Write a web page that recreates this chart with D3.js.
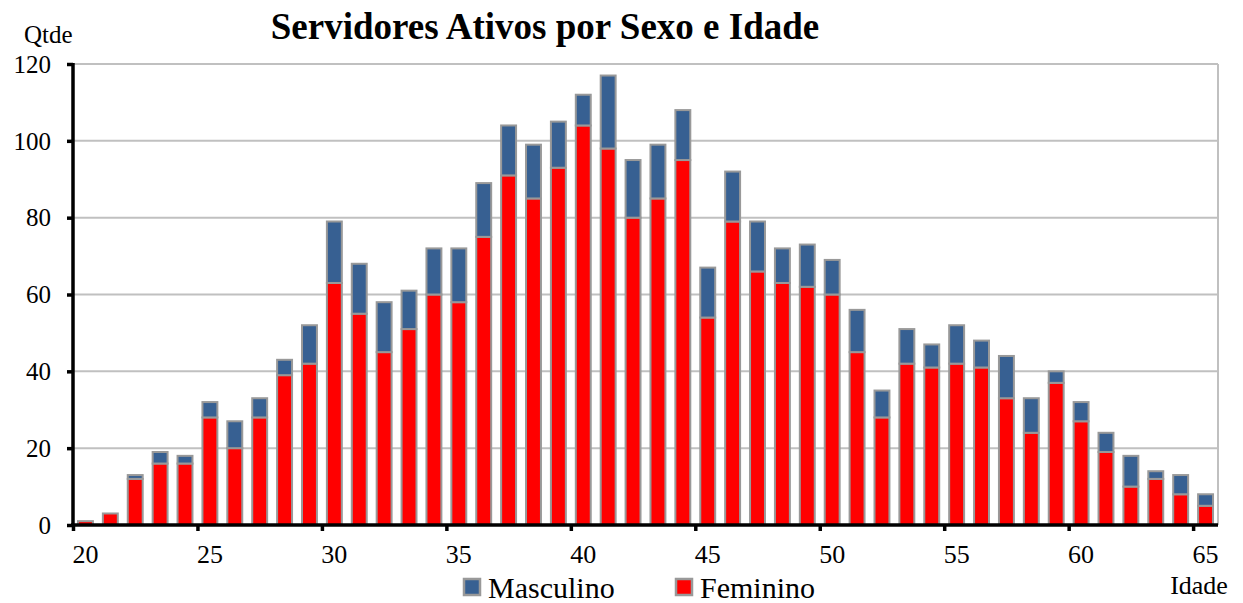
<!DOCTYPE html>
<html>
<head>
<meta charset="utf-8">
<script src="https://cdn.jsdelivr.net/npm/d3@7"></script>
<style>
  body { margin: 0; background: #fff; }
  svg { display: block; font-family: "Liberation Serif", "Times New Roman", serif; }
</style>
</head>
<body>
<div id="chart"></div>
<script>
'use strict';

// ages 20..65
const idades = [20,21,22,23,24,25,26,27,28,29,30,31,32,33,34,35,36,37,38,39,40,41,42,43,44,45,
  46,47,48,49,50,51,52,53,54,55,56,57,58,59,60,61,62,63,64,65]
const feminino = [1,3,12,16,16,28,20,28,39,42,63,55,45,51,60,58,75,91,85,93,104,98,80,85,95,54,
  79,66,63,62,60,45,28,42,41,42,41,33,24,37,27,19,10,12,8,5]
const masculino = [0,0,1,3,2,4,7,5,4,10,16,13,13,10,12,14,14,13,14,12,8,19,15,14,13,13,
  13,13,9,11,9,11,7,9,6,10,7,11,9,3,5,5,8,2,5,3]
const yTicks = [0,20,40,60,80,100,120]
const xTicks = [20,25,30,35,40,45,50,55,60,65]
const series = ['Masculino','Feminino']

const colors = {Masculino: '#376092', Feminino: '#ff0000'}
const serif = '"Liberation Serif", "Times New Roman", serif'

const dims = {width: 1243, height: 603, left: 73, right: 1218, top: 64, bottom: 525}

const svg = d3.select('#chart').append('svg')
  .attr('width', dims.width)
  .attr('height', dims.height)

const data = idades.map((a, i) => ({idade: a, Feminino: feminino[i], Masculino: masculino[i]}))

const x = d3.scaleBand()
  .domain(idades)
  .range([dims.left, dims.right])
  .paddingInner(0.4)
  .paddingOuter(0.2)

// linear scale so tick marks sit on the band boundaries
const xLin = d3.scaleLinear()
  .domain([idades[0], idades[idades.length - 1] + 1])
  .range([dims.left, dims.right])

const y = d3.scaleLinear()
  .domain([0, 120])
  .range([dims.bottom, dims.top])

// gridlines
svg.append('g')
  .selectAll('line')
  .data(yTicks.filter(d => d > 0))
  .join('line')
  .attr('x1', dims.left)
  .attr('x2', dims.right)
  .attr('y1', d => y(d))
  .attr('y2', d => y(d))
  .attr('stroke', '#c0c0c0')
  .attr('stroke-width', 2)

// right border
svg.append('line')
  .attr('x1', dims.right).attr('x2', dims.right)
  .attr('y1', dims.top).attr('y2', dims.bottom)
  .attr('stroke', '#c0c0c0')
  .attr('stroke-width', 2)

// stacked bars
const stack = d3.stack().keys(['Feminino','Masculino'])(data)

svg.append('g')
  .selectAll('g')
  .data(stack)
  .join('g')
  .attr('fill', d => colors[d.key])
  .selectAll('rect')
  .data(d => d.filter(p => p[1] > p[0]))
  .join('rect')
  .attr('x', d => x(d.data.idade))
  .attr('width', x.bandwidth())
  .attr('y', d => y(d[1]))
  .attr('height', d => y(d[0]) - y(d[1]))
  .attr('stroke', '#999999')
  .attr('stroke-width', 2)

// y axis
const yAxis = svg.append('g')
  .attr('transform', `translate(${dims.left},0)`)
  .call(d3.axisLeft(y).tickValues(yTicks).tickSize(6).tickPadding(16).tickFormat(d3.format('d')))
  .attr('font-family', serif)
  .attr('font-size', 25)
yAxis.select('.domain').attr('stroke', '#000').attr('stroke-width', 3.5)
  .attr('d', `M0,${dims.top - 1}V${dims.bottom}`)
yAxis.selectAll('.tick line').attr('stroke', '#000').attr('stroke-width', 3.5)
yAxis.selectAll('.tick text').attr('fill', '#000').attr('dy', '0.33em')

// x axis: tick marks on band edges
const xAxis = svg.append('g')
  .attr('transform', `translate(0,${dims.bottom})`)
  .call(d3.axisBottom(xLin).tickValues(xTicks).tickSize(6).tickFormat(''))
xAxis.select('.domain').attr('stroke', '#000').attr('stroke-width', 3.5)
  .attr('d', `M${dims.left - 2},0H${dims.right}`)
xAxis.selectAll('.tick line').attr('stroke', '#000').attr('stroke-width', 3.5)

// x labels centred on the bands
const xLabels = svg.append('g')
  .attr('transform', `translate(0,${dims.bottom})`)
  .call(d3.axisBottom(x).tickValues(xTicks).tickSize(0).tickPadding(20))
  .attr('font-family', serif)
  .attr('font-size', 26)
xLabels.select('.domain').remove()
xLabels.selectAll('.tick text').attr('fill', '#000')

// title and axis names
svg.append('text')
  .attr('x', 545)
  .attr('y', 39)
  .attr('text-anchor', 'middle')
  .style('font-size', '37px')
  .style('font-weight', 'bold')
  .text('Servidores Ativos por Sexo e Idade')

svg.append('text')
  .attr('x', 24)
  .attr('y', 43)
  .style('font-size', '25px')
  .text('Qtde')

svg.append('text')
  .attr('x', 1199)
  .attr('y', 594)
  .attr('text-anchor', 'middle')
  .style('font-size', '26px')
  .text('Idade')

// legend
const legendX = [464, 676]
const legend = svg.append('g')
  .selectAll('g')
  .data(series)
  .join('g')
  .attr('transform', (d, i) => `translate(${legendX[i]},579)`)
legend.append('rect')
  .attr('width', 16)
  .attr('height', 16)
  .attr('fill', d => colors[d])
  .attr('stroke', '#999999')
  .attr('stroke-width', 2.5)
legend.append('text')
  .attr('x', 24)
  .attr('y', 19)
  .style('font-size', '30px')
  .text(d => d)
</script>
</body>
</html>
